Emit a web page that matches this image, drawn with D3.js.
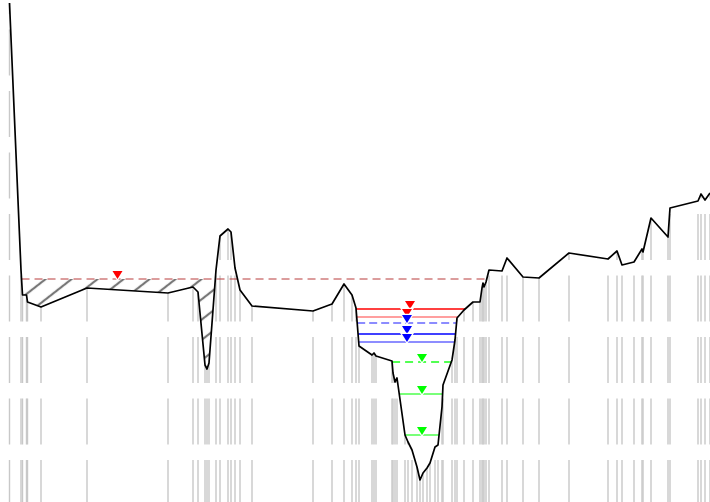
<!DOCTYPE html>
<html>
<head>
<meta charset="utf-8">
<script src="https://cdn.jsdelivr.net/npm/d3@7"></script>
<style>
  body { margin: 0; background: #fff; }
</style>
</head>
<body>
<div id="wrapper"></div>
<script>
// ground profile: station (m) and elevation (m)
const stations = [0.95, 2.1, 2.25, 2.65, 2.75, 4.1, 8.7, 16.8, 19.3, 19.8, 20.5, 20.7, 20.9, 21.6, 22.0, 22.8, 23.1, 23.5, 24.0, 25.2,
    31.3, 33.2, 34.4, 35.2, 35.6, 35.9, 37.2, 37.4, 37.6, 39.2, 39.3, 39.5, 39.7, 40.5, 40.8, 41.2, 41.7, 42.0, 42.3, 42.7,
    43.0, 43.5, 43.8, 44.2, 44.3, 45.2, 45.5, 45.7, 46.4, 47.3, 48.0, 48.2, 48.3, 48.4, 48.6, 48.9, 50.2, 50.7, 52.3, 53.9,
    56.9, 60.8, 61.7, 62.2, 63.4, 64.2, 64.3, 65.1, 66.8, 67.0, 69.8, 70.1, 70.5, 71.0];
const elevations = [49.9, 23.2, 20.7, 20.7, 20.0, 19.5, 21.4, 20.9, 21.5, 21.0, 13.7, 13.3, 13.9, 23.2, 26.6, 27.3, 27.0, 23.4, 21.2, 19.6,
    19.1, 19.8, 21.8, 20.7, 19.4, 15.6, 14.7, 14.9, 14.6, 14.1, 12.9, 12.0, 12.4, 6.7, 6.0, 5.2, 3.5, 2.2, 2.9, 3.4,
    3.9, 5.5, 5.7, 9.5, 11.7, 14.2, 16.2, 18.4, 19.2, 20.0, 20.0, 21.4, 21.9, 21.5, 22.0, 23.2, 23.1, 24.4, 22.5, 22.4,
    24.9, 24.3, 25.1, 23.7, 24.0, 25.3, 25.0, 28.4, 26.5, 29.4, 30.1, 30.8, 30.2, 30.9];

// water surface over the whole section
const wsElevation = 22.3;
const wsMarker = 11.75;

// water levels inside the main channel
const levelNames = ["r1", "r2", "b1", "b2", "b3", "g1", "g2", "g3"];
const levelElevations = [19.3, 18.5, 17.9, 16.8, 16.0, 14.0, 10.8, 6.7];
const levelMarkers = [41.0, 40.7, 40.7, 40.7, 40.7, 42.2, 42.2, 42.2];

const levelStyle = {
    r1: { color: "red", opacity: 1, dash: null },
    r2: { color: "red", opacity: 0.5, dash: null },
    b1: { color: "blue", opacity: 0.6, dash: "8,4" },
    b2: { color: "blue", opacity: 1, dash: null },
    b3: { color: "blue", opacity: 0.6, dash: null },
    g1: { color: "lime", opacity: 0.9, dash: "8,5" },
    g2: { color: "lime", opacity: 0.7, dash: null },
    g3: { color: "lime", opacity: 0.7, dash: null }
};

var dimension = {
    width: 710,
    height: 502
};

const n = stations.length;

const xScaler = d3.scaleLinear()
    .domain([0, 71])
    .range([0, dimension.width]);
const yScaler = d3.scaleLinear()
    .domain([0, 50.2])
    .range([dimension.height, 0]);

function crossing(i, j, level) {
    const t = (level - elevations[i]) / (elevations[j] - elevations[i]);
    return stations[i] + t * (stations[j] - stations[i]);
}

// extent of a level that is wet around the lowest point of the channel
function channelExtent(center, level) {
    let i = center;
    while (i > 0 && elevations[i - 1] < level) i--;
    let j = center;
    while (j < n - 1 && elevations[j + 1] < level) j++;
    return [crossing(i, i - 1, level), crossing(j, j + 1, level)];
}

const svg = d3.select("#wrapper").append("svg")
    .attr("width", dimension.width)
    .attr("height", dimension.height);

const defs = svg.append("defs");
const hatch = defs.append("pattern")
    .attr("id", "hatch")
    .attr("patternUnits", "userSpaceOnUse")
    .attr("width", 16)
    .attr("height", 16)
    .attr("patternTransform", "rotate(52)");
hatch.append("line")
    .attr("x1", 8).attr("x2", 8)
    .attr("y1", 0).attr("y2", 16)
    .attr("stroke", "#777")
    .attr("stroke-width", 2.2);

const ground = stations.map((s, i) => ({ s: s, z: elevations[i] }));

// vertical station lines under the ground
svg.append("g")
    .selectAll("line")
    .data(ground)
    .join("line")
    .attr("x1", d => xScaler(d.s))
    .attr("x2", d => xScaler(d.s))
    .attr("y1", yScaler(-0.4))
    .attr("y2", d => yScaler(d.z))
    .attr("stroke", "#c8c8c8")
    .attr("stroke-width", 1.4)
    .attr("stroke-dasharray", "46,15.5");

// section water surface, from bank to bank
let a = 0;
while (elevations[a + 1] >= wsElevation) a++;
let b = n - 1;
while (elevations[b - 1] >= wsElevation) b--;
const wsLeft = crossing(a, a + 1, wsElevation);
const wsRight = crossing(b, b - 1, wsElevation);

// hatched part left of the levee
let k = a + 1;
while (elevations[k + 1] < wsElevation) k++;
const hatchPts = [{ s: wsLeft, z: wsElevation }]
    .concat(ground.slice(a + 1, k + 1))
    .concat([{ s: crossing(k, k + 1, wsElevation), z: wsElevation }]);

const area = d3.area()
    .x(d => xScaler(d.s))
    .y0(yScaler(wsElevation))
    .y1(d => yScaler(d.z));

svg.append("path")
    .attr("d", area(hatchPts))
    .attr("fill", "url(#hatch)");

svg.append("line")
    .attr("x1", xScaler(wsLeft))
    .attr("x2", xScaler(wsRight))
    .attr("y1", yScaler(wsElevation))
    .attr("y2", yScaler(wsElevation))
    .attr("stroke", "#b83a3a")
    .attr("stroke-width", 1)
    .attr("stroke-dasharray", "8,5");

// channel levels
const lowest = d3.minIndex(elevations);
const levels = levelNames.map((name, i) => {
    const ext = channelExtent(lowest, levelElevations[i]);
    return { name: name, z: levelElevations[i], marker: levelMarkers[i], left: ext[0], right: ext[1] };
});

svg.append("g")
    .selectAll("line")
    .data(levels)
    .join("line")
    .attr("x1", d => xScaler(d.left))
    .attr("x2", d => xScaler(d.right))
    .attr("y1", d => yScaler(d.z))
    .attr("y2", d => yScaler(d.z))
    .attr("stroke", d => levelStyle[d.name].color)
    .attr("stroke-opacity", d => levelStyle[d.name].opacity)
    .attr("stroke-width", 1.3)
    .attr("stroke-dasharray", d => levelStyle[d.name].dash);

// ground line
const lineGenerator = d3.line()
    .x(d => xScaler(d.s))
    .y(d => yScaler(d.z));

svg.append("path")
    .attr("d", lineGenerator(ground))
    .attr("fill", "none")
    .attr("stroke", "black")
    .attr("stroke-width", 1.7)
    .attr("stroke-linejoin", "round");

// water level markers
const markers = [{ s: wsMarker, z: wsElevation, color: "red" }]
    .concat(levels.map(d => ({ s: d.marker, z: d.z, color: levelStyle[d.name].color })));

const tri = d => {
    const x = xScaler(d.s), y = yScaler(d.z);
    return `M${x - 5},${y - 8}L${x + 5},${y - 8}L${x},${y}Z`;
};

svg.append("g")
    .selectAll("path")
    .data(markers)
    .join("path")
    .attr("d", tri)
    .attr("fill", d => d.color)
    .attr("stroke", "white")
    .attr("stroke-width", 2.4)
    .attr("paint-order", "stroke");
</script>
</body>
</html>
